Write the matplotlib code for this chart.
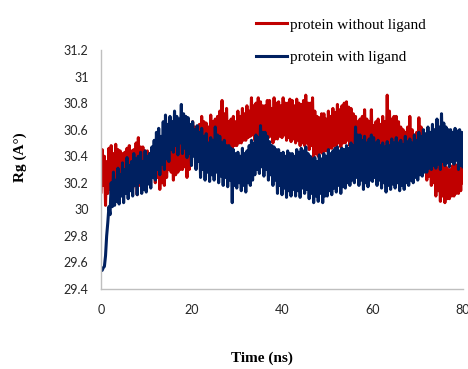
import numpy as np
import matplotlib
matplotlib.use("Agg")
import matplotlib.pyplot as plt

# time axis (ns), sampled every 0.25 ns
time_ns = np.arange(321) * 0.25

# Rg (A) protein without ligand (red), four samples per ns
rg_without = [
    30.13, 30.45, 30.18, 30.40,  30.03, 30.36, 30.12, 30.46,  30.15, 30.48, 30.20, 30.42,
    30.16, 30.49, 30.22, 30.45,  30.18, 30.44, 30.20, 30.42,  30.18, 30.43, 30.22, 30.46,
    30.20, 30.48, 30.24, 30.44,  30.16, 30.45, 30.20, 30.50,  30.11, 30.54, 30.18, 30.47,
    30.15, 30.47, 30.20, 30.44,  30.17, 30.44, 30.22, 30.42,  30.25, 30.40, 30.28, 30.43,
    30.20, 30.38, 30.24, 30.42,  30.15, 30.40, 30.20, 30.44,  30.18, 30.45, 30.24, 30.42,
    30.30, 30.48, 30.28, 30.46,  30.22, 30.50, 30.26, 30.48,  30.28, 30.55, 30.30, 30.50,
    30.30, 30.48, 30.32, 30.46,  30.24, 30.52, 30.30, 30.56,  30.42, 30.66, 30.46, 30.62,
    30.45, 30.62, 30.44, 30.64,  30.40, 30.70, 30.46, 30.66,  30.45, 30.65, 30.48, 30.62,
    30.42, 30.71, 30.46, 30.66,  30.46, 30.68, 30.48, 30.70,  30.48, 30.74, 30.50, 30.82,
    30.44, 30.72, 30.48, 30.76,  30.42, 30.66, 30.46, 30.68,  30.45, 30.70, 30.48, 30.66,
    30.48, 30.74, 30.50, 30.70,  30.50, 30.76, 30.52, 30.72,  30.52, 30.78, 30.54, 30.74,
    30.55, 30.84, 30.56, 30.78,  30.52, 30.80, 30.55, 30.84,  30.55, 30.81, 30.56, 30.78,
    30.52, 30.78, 30.54, 30.82,  30.54, 30.82, 30.55, 30.76,  30.50, 30.84, 30.53, 30.80,
    30.53, 30.81, 30.55, 30.78,  30.54, 30.84, 30.56, 30.80,  30.52, 30.80, 30.54, 30.83,
    30.51, 30.82, 30.53, 30.78,  30.50, 30.83, 30.52, 30.80,  30.48, 30.79, 30.50, 30.82,
    30.48, 30.86, 30.50, 30.80,  30.45, 30.80, 30.48, 30.84,  30.39, 30.74, 30.42, 30.70,
    30.40, 30.69, 30.43, 30.72,  30.42, 30.72, 30.44, 30.68,  30.44, 30.74, 30.46, 30.70,
    30.46, 30.76, 30.48, 30.73,  30.48, 30.79, 30.50, 30.75,  30.47, 30.78, 30.50, 30.80,
    30.50, 30.81, 30.52, 30.77,  30.48, 30.76, 30.50, 30.72,  30.45, 30.70, 30.47, 30.66,
    30.46, 30.68, 30.48, 30.70,  30.44, 30.75, 30.46, 30.68,  30.42, 30.66, 30.45, 30.75,
    30.40, 30.63, 30.43, 30.66,  30.42, 30.68, 30.45, 30.64,  30.44, 30.70, 30.46, 30.66,
    30.40, 30.86, 30.44, 30.74,  30.42, 30.68, 30.45, 30.70,  30.38, 30.70, 30.42, 30.66,
    30.40, 30.62, 30.42, 30.60,  30.36, 30.58, 30.40, 30.62,  30.24, 30.70, 30.32, 30.60,
    30.30, 30.56, 30.34, 30.58,  30.34, 30.69, 30.36, 30.62,  30.30, 30.55, 30.32, 30.52,
    30.22, 30.50, 30.25, 30.48,  30.18, 30.45, 30.20, 30.42,  30.10, 30.38, 30.14, 30.36,
    30.06, 30.35, 30.10, 30.32,  30.05, 30.32, 30.08, 30.30,  30.08, 30.30, 30.10, 30.33,
    30.10, 30.34, 30.12, 30.30,  30.12, 30.30, 30.14, 30.32,
    30.20,
]

# Rg (A) protein with ligand (blue), four samples per ns
rg_with = [
    29.55, 29.54, 29.56, 29.57,  29.65, 29.80, 29.90, 30.02,  29.96, 30.20, 30.02, 30.28,
    30.03, 30.22, 30.06, 30.31,  30.04, 30.26, 30.10, 30.35,  30.05, 30.30, 30.12, 30.39,
    30.08, 30.33, 30.14, 30.36,  30.10, 30.42, 30.18, 30.38,  30.11, 30.40, 30.20, 30.43,
    30.12, 30.36, 30.15, 30.44,  30.13, 30.40, 30.19, 30.42,  30.16, 30.47, 30.24, 30.52,
    30.22, 30.58, 30.30, 30.61,  30.26, 30.55, 30.34, 30.66,  30.30, 30.71, 30.38, 30.64,
    30.36, 30.70, 30.45, 30.66,  30.43, 30.74, 30.48, 30.70,  30.41, 30.68, 30.50, 30.79,
    30.42, 30.72, 30.46, 30.70,  30.39, 30.69, 30.42, 30.64,  30.33, 30.66, 30.40, 30.60,
    30.30, 30.63, 30.36, 30.58,  30.24, 30.61, 30.30, 30.55,  30.22, 30.57, 30.28, 30.50,
    30.21, 30.54, 30.26, 30.52,  30.22, 30.62, 30.28, 30.56,  30.20, 30.55, 30.25, 30.50,
    30.18, 30.52, 30.24, 30.48,  30.17, 30.48, 30.22, 30.46,  30.05, 30.45, 30.18, 30.42,
    30.16, 30.43, 30.20, 30.40,  30.14, 30.46, 30.18, 30.42,  30.13, 30.44, 30.20, 30.48,
    30.18, 30.52, 30.22, 30.50,  30.26, 30.56, 30.30, 30.54,  30.27, 30.63, 30.32, 30.58,
    30.25, 30.58, 30.30, 30.55,  30.22, 30.51, 30.26, 30.48,  30.18, 30.47, 30.22, 30.45,
    30.12, 30.45, 30.18, 30.42,  30.11, 30.43, 30.16, 30.40,  30.09, 30.44, 30.14, 30.42,
    30.10, 30.42, 30.15, 30.40,  30.10, 30.45, 30.14, 30.43,  30.09, 30.46, 30.16, 30.44,
    30.12, 30.47, 30.15, 30.42,  30.08, 30.40, 30.12, 30.38,  30.05, 30.39, 30.10, 30.36,
    30.06, 30.41, 30.12, 30.38,  30.05, 30.42, 30.10, 30.40,  30.10, 30.45, 30.14, 30.42,
    30.11, 30.44, 30.16, 30.46,  30.13, 30.47, 30.18, 30.44,  30.12, 30.46, 30.17, 30.45,
    30.16, 30.48, 30.20, 30.46,  30.18, 30.50, 30.22, 30.48,  30.20, 30.62, 30.24, 30.56,
    30.18, 30.56, 30.22, 30.52,  30.15, 30.55, 30.20, 30.50,  30.17, 30.53, 30.22, 30.56,
    30.21, 30.54, 30.24, 30.50,  30.18, 30.52, 30.22, 30.48,  30.16, 30.50, 30.20, 30.47,
    30.13, 30.51, 30.18, 30.48,  30.15, 30.53, 30.19, 30.50,  30.16, 30.54, 30.20, 30.50,
    30.14, 30.52, 30.18, 30.49,  30.15, 30.55, 30.20, 30.51,  30.18, 30.53, 30.22, 30.50,
    30.20, 30.56, 30.24, 30.52,  30.22, 30.58, 30.26, 30.55,  30.25, 30.60, 30.28, 30.57,
    30.28, 30.62, 30.31, 30.58,  30.30, 30.64, 30.33, 30.60,  30.31, 30.68, 30.34, 30.62,
    30.30, 30.72, 30.36, 30.65,  30.33, 30.62, 30.35, 30.60,  30.32, 30.60, 30.36, 30.58,
    30.34, 30.61, 30.37, 30.59,  30.30, 30.60, 30.33, 30.58,
    30.32,
]

x_ticks = [0, 20, 40, 60, 80]
y_ticks = [29.4, 29.6, 29.8, 30.0, 30.2, 30.4, 30.6, 30.8, 31.0, 31.2]
y_tick_labels = ["29.4", "29.6", "29.8", "30", "30.2", "30.4", "30.6", "30.8", "31", "31.2"]
series_labels = ["protein without ligand", "protein with ligand"]

fig = plt.figure(figsize=(4.68, 3.69), dpi=100)
ax = fig.add_axes([101/468, 1 - 289/369, (463 - 101)/468, (289 - 50)/369])

l1, = ax.plot(time_ns, rg_without, color="#C00000", lw=2.2, label=series_labels[0])
l2, = ax.plot(time_ns, rg_with, color="#002060", lw=2.2, label=series_labels[1])

ax.set_xlim(0, 80)
ax.set_ylim(29.4, 31.2)
ax.set_xticks(x_ticks)
ax.set_yticks(y_ticks)
ax.set_yticklabels(y_tick_labels)
ax.tick_params(axis="both", length=0, labelsize=9)
ax.tick_params(axis="y", pad=9)
ax.tick_params(axis="x", pad=11)
for lab in ax.get_xticklabels() + ax.get_yticklabels():
    lab.set_fontfamily("Lato")
    lab.set_color("#262626")

for s in ["top", "right"]:
    ax.spines[s].set_visible(False)
for s in ["left", "bottom"]:
    ax.spines[s].set_color("#BFBFBF")
    ax.spines[s].set_linewidth(1.0)

fig.text(20/468, 1 - 157/369, "Rg (A°)", rotation=90, ha="center", va="center",
         fontfamily="Liberation Serif", fontweight="bold", fontsize=11)
fig.text(262/468, 1 - 358/369, "Time (ns)", ha="center", va="center",
         fontfamily="Liberation Serif", fontweight="bold", fontsize=11)

fig.legend(handles=[l1, l2], loc="upper left", bbox_to_anchor=(256/468, 1 - 18/369),
           frameon=False, borderpad=0, borderaxespad=0, handlelength=2.0,
           handletextpad=0.2, labelspacing=1.25,
           prop={"family": "Liberation Serif", "size": 11})

fig.savefig("out.png", dpi=100)
